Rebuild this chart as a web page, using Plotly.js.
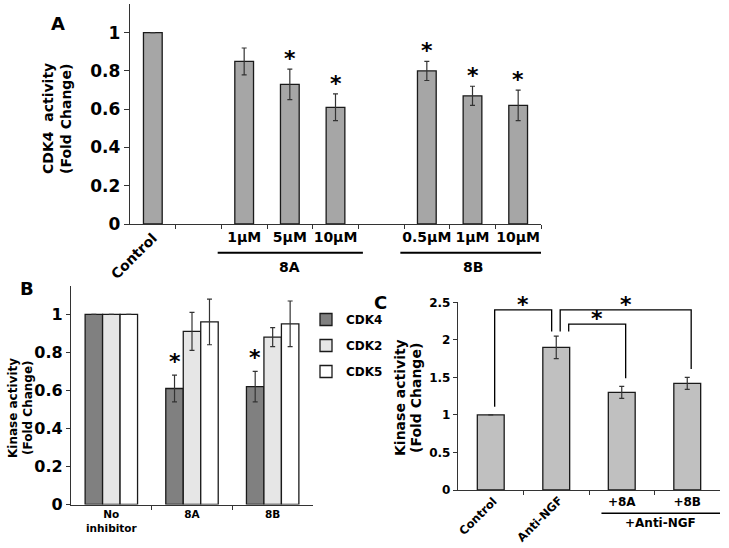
<!DOCTYPE html>
<html><head><meta charset="utf-8">
<script src="https://cdn.plot.ly/plotly-3.0.1.min.js"></script>
<style>html,body{margin:0;padding:0;background:#fff}#chart{width:729px;height:548px}</style>
</head><body><div id="chart"></div>
<script>
// ---------- Panel A data ----------
const catsA = ['Control', '', '1µM', '5µM', '10µM', '', '0.5µM', '1µM', '10µM'];
const valsA = [1, null, 0.85, 0.73, 0.61, null, 0.80, 0.67, 0.62];
const errA  = [0, null, 0.07, 0.08, 0.07, null, 0.05, 0.05, 0.08];
const sigA  = [false, false, false, true, true, false, true, true, true];
const rotatedA = ['Control'];
const groupLabelsA = ['8A', '8B'];
const groupStartA = [2, 6];
const groupEndA = [4, 8];
const yTicksA = [0, 0.2, 0.4, 0.6, 0.8, 1];

// ---------- Panel B data ----------
const catsB = ['No<br>inhibitor', '8A', '8B'];
const seriesB = ['CDK4', 'CDK2', 'CDK5'];
const cdk4B = [1, 0.61, 0.62];
const cdk2B = [1, 0.91, 0.88];
const cdk5B = [1, 0.96, 0.95];
const errCdk4B = [0, 0.07, 0.08];
const errCdk2B = [0, 0.10, 0.05];
const errCdk5B = [0, 0.12, 0.12];
const sigCdk4B = [false, true, true];
const yTicksB = [0, 0.2, 0.4, 0.6, 0.8, 1];

// ---------- Panel C data ----------
const catsC = ['Control', 'Anti-NGF', '+8A', '+8B'];
const valsC = [1, 1.9, 1.3, 1.42];
const errC  = [0, 0.15, 0.08, 0.08];
const rotatedC = ['Control', 'Anti-NGF'];
const groupLabelC = '+Anti-NGF';
const groupStartC = 2, groupEndC = 3;
const yTicksC = [0, 0.5, 1, 1.5, 2, 2.5];
const bracketFromC = [0, 1, 1];
const bracketToC   = [1, 3, 2];

// ---------- style ----------
const FF = 'DejaVu Sans, Verdana, sans-serif';
const bold = (size, color) => ({family: FF, size: size, color: color || '#111', weight: 'bold'});
const LINE = '#333';
const idx = a => a.map((_, i) => i);
const bounds = n => Array.from({length: n - 1}, (_, i) => i + 0.5);

const errStyle = arr => ({type: 'data', array: arr, visible: true, thickness: 1.2, width: 2.5, color: '#333'});

const traces = [];
// A
traces.push({
  type: 'bar', x: idx(catsA), y: valsA, width: 0.41, xaxis: 'x', yaxis: 'y', showlegend: false,
  marker: {color: '#a6a6a6', line: {color: '#1a1a1a', width: 1.3}}, error_y: errStyle(errA)
});
// B
const bFill = ['#808080', '#e6e6e6', '#ffffff'];
[[cdk4B, errCdk4B], [cdk2B, errCdk2B], [cdk5B, errCdk5B]].forEach((s, k) => {
  traces.push({
    type: 'bar', name: seriesB[k], legendgroup: seriesB[k], x: idx(catsB), y: s[0], xaxis: 'x2', yaxis: 'y2',
    marker: {color: bFill[k], line: {color: '#1a1a1a', width: 1.3}}, error_y: errStyle(s[1])
  });
});
// C
traces.push({
  type: 'bar', x: idx(catsC), y: valsC, width: 0.41, xaxis: 'x3', yaxis: 'y3', showlegend: false,
  marker: {color: '#c0c0c0', line: {color: '#1a1a1a', width: 1.3}}, error_y: errStyle(errC)
});

const base = {showgrid: false, zeroline: false, showline: true, linecolor: LINE, linewidth: 1.2, fixedrange: true};
const minorTicks = n => ({tickmode: 'array', tickvals: bounds(n), ticks: 'outside', ticklen: 4, tickcolor: LINE, tickwidth: 1});

const annotations = [];
const shapes = [];

// Panel letters
[['A', 58, 24], ['B', 27, 288], ['C', 381, 302]].forEach(p => annotations.push({
  text: p[0], xref: 'paper', yref: 'paper', x: p[1] / 729, y: 1 - p[2] / 548, showarrow: false,
  xanchor: 'center', yanchor: 'middle', font: bold(18, '#000')
}));

// Y titles (two lines each)
function ytitle(l1, l2, x1, x2, yc, size) {
  annotations.push({text: l1, xref: 'paper', yref: 'paper', x: x1 / 729, y: 1 - yc / 548, textangle: -90,
    showarrow: false, xanchor: 'center', yanchor: 'middle', font: bold(size, '#000')});
  annotations.push({text: l2, xref: 'paper', yref: 'paper', x: x2 / 729, y: 1 - yc / 548, textangle: -90,
    showarrow: false, xanchor: 'center', yanchor: 'middle', font: bold(size, '#000')});
}
ytitle('CDK4  activity', '(Fold Change)', 48, 66, 119, 14);
ytitle('Kinase activity', '(Fold Change)', 13, 28, 408, 12);
ytitle('Kinase activity', '(Fold Change)', 400, 416, 398, 14);

// Rotated category labels
catsA.forEach((c, i) => { if (rotatedA.includes(c)) annotations.push({
  text: c, xref: 'x', yref: 'y', x: i, y: 0, textangle: -45, showarrow: false,
  xanchor: 'right', yanchor: 'top', xshift: 10, yshift: -3, font: bold(14, '#000')}); });
catsC.forEach((c, i) => { if (rotatedC.includes(c)) annotations.push({
  text: c, xref: 'x3', yref: 'y3', x: i, y: 0, textangle: -45, showarrow: false,
  xanchor: 'right', yanchor: 'top', xshift: 12, yshift: -1, font: bold(11.5, '#000')}); });

// Group underlines + labels (A)
groupLabelsA.forEach((g, k) => {
  shapes.push({type: 'line', xref: 'x', yref: 'paper', x0: groupStartA[k] - 0.58, x1: groupEndA[k] + 0.6,
    y0: 1 - 252.7 / 548, y1: 1 - 252.7 / 548, line: {color: '#000', width: 2}});
  annotations.push({text: g, xref: 'x', yref: 'paper', x: (groupStartA[k] + groupEndA[k]) / 2, y: 1 - 266.7 / 548,
    showarrow: false, xanchor: 'center', yanchor: 'middle', font: bold(14, '#000')});
});
// Group underline (C)
shapes.push({type: 'line', xref: 'x3', yref: 'paper', x0: groupStartC - 0.31, x1: groupEndC + 0.5,
  y0: 1 - 513.3 / 548, y1: 1 - 513.3 / 548, line: {color: '#000', width: 1.5}});
annotations.push({text: groupLabelC, xref: 'x3', yref: 'paper', x: (groupStartC - 0.31 + groupEndC + 0.5) / 2,
  y: 1 - 522.7 / 548, showarrow: false, xanchor: 'center', yanchor: 'middle', font: bold(12, '#000')});

// Stars
const star = (xref, yref, x, y, shift) => annotations.push({text: '*', xref: xref, yref: yref, x: x, y: y,
  showarrow: false, xanchor: 'center', yanchor: 'bottom', yshift: shift, font: bold(22, '#000')});
valsA.forEach((v, i) => { if (sigA[i]) star('x', 'y', i, v + errA[i], -4); });
const bargapB = 0.35;
cdk4B.forEach((v, i) => { if (sigCdk4B[i]) star('x2', 'y2', i - (1 - bargapB) / 3, v + errCdk4B[i], -1); });

// Brackets (C)
const legLeftOff = [0.06, 0.06, 0.19], legRightOff = [-0.07, 0.06, 0.06];
const bracketTop = [2.40, 2.40, 2.21];
bracketFromC.forEach((f, k) => {
  const t = bracketToC[k];
  const xl = f + legLeftOff[k], xr = t + legRightOff[k];
  const yl = (f === 0 ? valsC[f] + 0.11 : valsC[f] + errC[f] + 0.06);
  const yr = valsC[t] + errC[t] + (t === 1 ? 0.06 : 0.11);
  shapes.push({type: 'path', xref: 'x3', yref: 'y3',
    path: `M${xl},${yl} L${xl},${bracketTop[k]} L${xr},${bracketTop[k]} L${xr},${yr}`,
    line: {color: '#000', width: 1.3}});
  star('x3', 'y3', (xl + xr) / 2, bracketTop[k], -9);
});

const layout = {
  width: 729, height: 548, margin: {l: 0, r: 0, t: 0, b: 0}, paper_bgcolor: '#fff', plot_bgcolor: 'rgba(0,0,0,0)',
  font: bold(12, '#000'), barmode: 'group', bargap: bargapB, bargroupgap: 0, hovermode: false,
  showlegend: true,
  legend: {x: 306 / 729, y: 1 - 305 / 548, xanchor: 'left', yanchor: 'top', font: bold(12, '#000'),
    bgcolor: 'rgba(0,0,0,0)', tracegroupgap: 7, traceorder: 'grouped'},
  xaxis: Object.assign({}, base, {domain: [130 / 729, 541 / 729], anchor: 'y', range: [-0.5, 8.5],
    tickmode: 'array', tickvals: idx(catsA), ticktext: catsA.map(c => rotatedA.includes(c) ? '' : c),
    ticks: '', tickfont: bold(14, '#000'), minor: minorTicks(catsA.length + 1)}),
  yaxis: Object.assign({}, base, {domain: [1 - 224 / 548, 1 - 4 / 548], anchor: 'x', range: [0, 1.15],
    tickmode: 'array', tickvals: yTicksA, ticktext: yTicksA.map(String), ticks: 'outside', ticklen: 5,
    tickcolor: LINE, tickfont: bold(17, '#000')}),
  xaxis2: Object.assign({}, base, {domain: [71 / 729, 313 / 729], anchor: 'y2', range: [-0.5, 2.5],
    tickmode: 'array', tickvals: idx(catsB), ticktext: catsB, ticks: '', tickfont: bold(10.5, '#000'),
    minor: minorTicks(catsB.length)}),
  yaxis2: Object.assign({}, base, {domain: [1 - 504.5 / 548, 1 - 285.8 / 548], anchor: 'x2', range: [0, 1.15],
    tickmode: 'array', tickvals: yTicksB, ticktext: yTicksB.map(String), ticks: 'outside', ticklen: 4,
    tickcolor: LINE, tickfont: bold(16, '#000')}),
  xaxis3: Object.assign({}, base, {domain: [458 / 729, 720 / 729], anchor: 'y3', range: [-0.5, 3.5],
    tickmode: 'array', tickvals: idx(catsC), ticktext: catsC.map(c => rotatedC.includes(c) ? '' : c),
    ticks: '', tickfont: bold(12, '#000'), minor: minorTicks(catsC.length)}),
  yaxis3: Object.assign({}, base, {domain: [1 - 490 / 548, 1 - 302.3 / 548], anchor: 'x3', range: [0, 2.5],
    tickmode: 'array', tickvals: yTicksC, ticktext: yTicksC.map(String), ticks: 'outside', ticklen: 4,
    tickcolor: LINE, tickfont: bold(12, '#000')}),
  annotations: annotations,
  shapes: shapes
};

Plotly.newPlot('chart', traces, layout, {staticPlot: true, displayModeBar: false});
</script></body></html>
